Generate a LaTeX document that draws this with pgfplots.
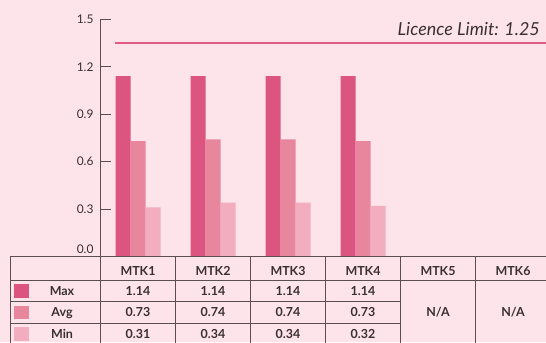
\documentclass[border=0pt]{standalone}
\usepackage{fontspec}
\setmainfont{Lato}
\usepackage{pgfplots}
\usepackage{pgfplotstable}
\pgfplotsset{compat=1.18}
\definecolor{bg}{HTML}{FCE4EA}
\definecolor{maxc}{HTML}{DC5581}
\definecolor{avgc}{HTML}{E8869E}
\definecolor{minc}{HTML}{F2AEBF}
\definecolor{limc}{HTML}{E05A82}
\definecolor{linec}{HTML}{5A4E52}
\definecolor{textc}{HTML}{3A3034}

\pgfplotstableread{
x max avg min
0 1.14 0.73 0.31
1 1.14 0.74 0.34
2 1.14 0.74 0.34
3 1.14 0.73 0.32
}\datatable

\begin{document}
\begin{tikzpicture}[x=1bp,y=1bp]
\useasboundingbox (0,0) rectangle (546,342);
\clip (0,0) rectangle (546,342);
\fill[bg] (0,0) rectangle (546,342);
\begin{axis}[
  at={(100.5bp,85.5bp)}, anchor=south west,
  scale only axis, width=445.5bp, height=237.2bp,
  xmin=-0.5, xmax=5.44, ymin=0, ymax=1.5,
  axis x line=none, axis y line=left,
  axis line style={-, draw=linec, line width=0.9bp},
  ytick={0.3,0.6,0.9,1.2,1.5},
  extra y ticks={0},
  extra y tick style={yticklabel style={yshift=7bp}},
  tick align=inside, major tick length=10bp,
  tick style={draw=linec, line width=0.9bp},
  /pgf/number format/assume math mode=true,
  yticklabel style={/pgf/number format/fixed, /pgf/number format/fixed zerofill,
    /pgf/number format/precision=1, font=\fontsize{12}{13}\selectfont,
    text=textc, xshift=-3.5bp},
  clip=false,
]
\addplot[ybar, bar width=15bp, bar shift=-15bp, fill=maxc, draw=none] table[x=x,y=max]{\datatable};
\addplot[ybar, bar width=15bp, bar shift=0bp, fill=avgc, draw=none] table[x=x,y=avg]{\datatable};
\addplot[ybar, bar width=15bp, bar shift=15bp, fill=minc, draw=none] table[x=x,y=min]{\datatable};
\addplot[draw=limc, line width=1.8bp] coordinates {(-0.31,1.35) (5.44,1.35)};
\end{axis}
% limit label
\node[anchor=base east, inner sep=0, text=textc, font=\fontsize{18}{20}\selectfont\itshape] at (540,307) {Licence Limit: 1.25};
% table grid
\begin{scope}[draw=linec, line width=0.9bp]
\draw (10,86) -- (550,86);
\draw (10,62) -- (550,62);
\draw (10,40.3) -- (400.5,40.3);
\draw (10,18.7) -- (400.5,18.7);
\foreach \xx in {10,100.5,175.5,250.5,325.5,400.5,475.5} {\draw (\xx,86) -- (\xx,-5);}
\end{scope}
% legend squares
\fill[maxc] (14,44.5) rectangle (29,58);
\fill[avgc] (14,23) rectangle (29,36.5);
\fill[minc] (14,1.5) rectangle (29,15);
\begin{scope}[every node/.style={anchor=base, inner sep=0, text=textc, font=\fontsize{12.5}{13}\selectfont\bfseries}]
\node at (62,47) {Max};
\node at (62,26) {Avg};
\node at (62,3.7) {Min};
\node at (138,67) {MTK1};
\node at (213,67) {MTK2};
\node at (288,67) {MTK3};
\node at (363,67) {MTK4};
\node at (438,67) {MTK5};
\node at (513,67) {MTK6};
\node at (138,47) {1.14};
\node at (213,47) {1.14};
\node at (288,47) {1.14};
\node at (363,47) {1.14};
\node at (138,26) {0.73};
\node at (213,26) {0.74};
\node at (288,26) {0.74};
\node at (363,26) {0.73};
\node at (138,3.7) {0.31};
\node at (213,3.7) {0.34};
\node at (288,3.7) {0.34};
\node at (363,3.7) {0.32};
\node at (438,25.3) {N/A};
\node at (513,25.3) {N/A};
\end{scope}
\end{tikzpicture}
\end{document}
